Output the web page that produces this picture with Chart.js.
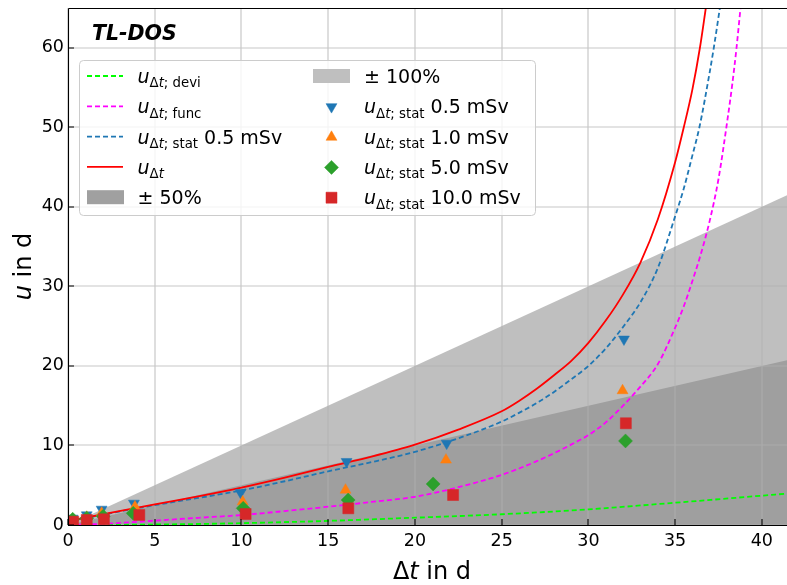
<!DOCTYPE html>
<html>
<head>
<meta charset="utf-8">
<script src="https://cdn.jsdelivr.net/npm/chart.js@4/dist/chart.umd.min.js"></script>
<style>
  html, body { margin: 0; padding: 0; background: #fff; }
  canvas { display: block; }
</style>
</head>
<body>
<canvas id="c" width="787" height="585"></canvas>
<script>
// Axis ranges and tick spacing (days)
const xMax = 41.45, yMax = 65;
const xStep = 5, yStep = 10;

// Shaded relative bands: +-100 % and +-50 % of the interval
const bandX = [0, 41.45];
const band100 = [0, 41.45];
const band50 = [0, 20.7];

// Uncertainty contributions versus interval length
const deviX = [0, 5, 10, 15, 20, 25, 30, 35, 41.45];
const deviU = [0, 0.06, 0.23, 0.52, 0.92, 1.35, 1.97, 2.8, 3.95];

const funcX = [0, 2.5, 5, 7.5, 10, 12.5, 15, 17.5, 20, 22.5, 25, 26, 27, 28, 29, 30, 31, 32, 33, 34, 35, 35.5, 36, 36.5, 37, 37.5, 38, 38.3, 38.54, 38.77];
const funcU = [0, 0.2, 0.55, 0.9, 1.25, 1.75, 2.3, 2.9, 3.55, 4.75, 6.3, 7.1, 8.0, 9.0, 10.1, 11.3, 12.9, 15.0, 17.4, 20.2, 24.8, 27.5, 30.7, 34.2, 38.3, 43.5, 50.7, 55.5, 60, 65];

const statX = [0, 2.5, 5, 7.5, 10, 12.5, 15, 17.5, 20, 22.5, 25, 26, 27, 28, 29, 30, 31, 32, 33, 34, 35, 35.5, 36, 36.4, 37, 37.23, 37.58];
const statU = [0.45, 1.5, 2.5, 3.4, 4.35, 5.5, 6.75, 7.9, 9.2, 10.9, 13.0, 14.1, 15.3, 16.7, 18.3, 20.0, 22.2, 24.9, 28.0, 32.3, 38.8, 42.3, 46.5, 50, 57, 60, 65];

const totalX = [0, 2.5, 5, 7.5, 10, 12.5, 15, 17.5, 20, 22.5, 25, 26, 27, 28, 29, 30, 31, 32, 33, 34, 35, 35.5, 36, 36.43, 36.77];
const totalU = [0.5, 1.55, 2.6, 3.6, 4.7, 5.95, 7.3, 8.6, 10.1, 12.0, 14.3, 15.6, 17.1, 18.8, 20.6, 22.9, 25.7, 29.0, 33.0, 38.4, 45.6, 50, 54.8, 60, 65];

// Statistical uncertainty from measurements at four dose levels
const stat05X = [0.27, 1.08, 1.94, 3.8, 9.95, 16.06, 21.83, 32.05];
const stat05U = [0.84, 1.26, 1.97, 2.73, 4.07, 7.97, 10.27, 23.36];
const stat10X = [0.27, 1.08, 1.94, 3.86, 10.07, 16.0, 21.79, 31.97];
const stat10U = [0.6, 1.0, 1.5, 2.3, 2.93, 4.4, 8.18, 16.9];
const stat50X = [0.27, 1.08, 2.03, 3.76, 10.1, 16.15, 21.05, 32.14];
const stat50U = [0.72, 0.85, 1.1, 1.47, 2.1, 3.14, 5.16, 10.57];
const stat100X = [0.3, 1.08, 2.07, 4.11, 10.24, 16.16, 22.2, 32.16];
const stat100U = [0.42, 0.63, 0.72, 1.26, 1.38, 2.1, 3.77, 12.79];

const FONT = '"DejaVu Sans", "Liberation Sans", sans-serif';
const C = {
  devi: '#00ff00', func: '#ff00ff', stat: '#1f77b4', total: '#ff0000',
  blue: '#1f77b4', orange: '#ff7f0e', green: '#2ca02c', red: '#d62728',
  band: 'rgba(128,128,128,0.5)'
};

const pts = (xs, ys) => xs.map((x, i) => ({ x, y: ys[i] }));

const band = (label, xs, ys, order) => ({
  label, data: pts(xs, ys), showLine: true, borderWidth: 0, pointRadius: 0,
  fill: 'origin', backgroundColor: C.band, borderColor: 'rgba(0,0,0,0)', order
});
const curve = (label, xs, ys, color, dash, order) => ({
  label, data: pts(xs, ys), showLine: true, borderColor: color, borderWidth: 1.8,
  borderDash: dash, pointRadius: 0, pointHoverRadius: 0, fill: false,
  cubicInterpolationMode: 'monotone', order
});
const marker = (label, xs, ys, color, style, radius, rotation, order) => ({
  label, data: pts(xs, ys), showLine: false, pointStyle: style, pointRadius: radius,
  pointRotation: rotation, backgroundColor: color, borderColor: color, borderWidth: 0.5,
  pointHoverRadius: radius, fill: false, order
});

const DASH = [5, 3];

// Mixed-font text run: [text, font, dy]
function richText(ctx, x, y, parts) {
  let cx = x;
  for (const [t, f, dy] of parts) {
    ctx.font = f;
    ctx.fillText(t, cx, y + (dy || 0));
    cx += ctx.measureText(t).width;
  }
  return cx;
}
function richWidth(ctx, parts) {
  let w = 0;
  for (const [t, f] of parts) { ctx.font = f; w += ctx.measureText(t).width; }
  return w;
}

const U = 'italic 19px ' + FONT, N = '19px ' + FONT;
const S = '13.3px ' + FONT, SI = 'italic 13.3px ' + FONT;
const SUB = 4.3;
const uSub = (name, suffix) => {
  const p = [['u', U], ['\u0394', S, SUB], ['t', SI, SUB]];
  if (name) p.push(['; ' + name, S, SUB]);
  if (suffix) p.push([' ' + suffix, N]);
  return p;
};

function drawMarker(ctx, style, r, rot, x, y, color) {
  ctx.save();
  ctx.fillStyle = color; ctx.strokeStyle = color; ctx.lineWidth = 0.5;
  if (Chart.helpers && Chart.helpers.drawPoint) {
    Chart.helpers.drawPoint(ctx, { pointStyle: style, radius: r, rotation: rot, borderWidth: 0.5 }, x, y);
  }
  ctx.restore();
}

// Grid drawn over the shaded bands, beneath the curves
const gridPlugin = {
  id: 'gridOverBands',
  beforeDatasetsDraw(chart) {
    const { ctx, chartArea: a, scales: { x, y } } = chart;
    ctx.save();
    ctx.strokeStyle = 'rgba(176,176,176,0.7)';
    ctx.lineWidth = 1.2;
    ctx.beginPath();
    x.ticks.forEach(t => {
      const px = Math.round(x.getPixelForValue(t.value));
      ctx.moveTo(px, a.top); ctx.lineTo(px, a.bottom);
    });
    y.ticks.forEach(t => {
      const py = Math.round(y.getPixelForValue(t.value));
      ctx.moveTo(a.left, py); ctx.lineTo(a.right, py);
    });
    ctx.stroke();
    ctx.restore();
  }
};

// Axis frame, inward ticks, legend and texts
const decoPlugin = {
  id: 'deco',
  afterDatasetsDraw(chart) {
    const { ctx, chartArea: a, scales: { x, y } } = chart;
    ctx.save();
    ctx.strokeStyle = '#000';
    ctx.lineWidth = 1.1;
    ctx.beginPath();
    ctx.moveTo(a.left + 0.5, a.top + 0.5);
    ctx.lineTo(a.left + 0.5, a.bottom + 0.5);
    ctx.lineTo(a.right, a.bottom + 0.5);
    ctx.moveTo(a.left + 0.5, a.top + 0.5);
    ctx.lineTo(a.right, a.top + 0.5);
    ctx.stroke();
    ctx.beginPath();
    x.ticks.forEach(t => {
      const px = Math.round(x.getPixelForValue(t.value));
      ctx.moveTo(px, a.bottom); ctx.lineTo(px, a.bottom - 6);
    });
    y.ticks.forEach(t => {
      const py = Math.round(y.getPixelForValue(t.value));
      ctx.moveTo(a.left, py); ctx.lineTo(a.left + 6, py);
    });
    ctx.stroke();

    // Legend box
    const bx = 79.5, by = 60.5, bw = 456, bh = 155, r = 4;
    ctx.beginPath();
    ctx.moveTo(bx + r, by);
    ctx.arcTo(bx + bw, by, bx + bw, by + bh, r);
    ctx.arcTo(bx + bw, by + bh, bx, by + bh, r);
    ctx.arcTo(bx, by + bh, bx, by, r);
    ctx.arcTo(bx, by, bx + bw, by, r);
    ctx.closePath();
    ctx.fillStyle = 'rgba(255,255,255,0.8)';
    ctx.fill();
    ctx.strokeStyle = '#cccccc';
    ctx.lineWidth = 1;
    ctx.stroke();

    const base0 = 83, step = 30.3;
    ctx.fillStyle = '#000';
    ctx.textBaseline = 'alphabetic';
    ctx.textAlign = 'left';

    // First column: curves and the 50 % band
    const col1 = [
      { kind: 'line', color: C.devi, dash: DASH, text: uSub('devi') },
      { kind: 'line', color: C.func, dash: DASH, text: uSub('func') },
      { kind: 'line', color: C.stat, dash: DASH, text: uSub('stat', '0.5 mSv') },
      { kind: 'line', color: C.total, dash: [], text: uSub('') },
      { kind: 'rect', color: 'rgb(160,160,160)', text: [['\u00b1 50%', N]] }
    ];
    col1.forEach((e, i) => {
      const base = base0 + step * i, cy = base - 7;
      if (e.kind === 'line') {
        ctx.save();
        ctx.strokeStyle = e.color; ctx.lineWidth = 1.8; ctx.setLineDash(e.dash);
        ctx.beginPath(); ctx.moveTo(87, cy); ctx.lineTo(123, cy); ctx.stroke();
        ctx.restore();
      } else {
        ctx.fillStyle = e.color; ctx.fillRect(87, cy - 7, 37, 14);
      }
      ctx.fillStyle = '#000';
      richText(ctx, 137.5, base, e.text);
    });

    // Second column: 100 % band and measured points
    const col2 = [
      { kind: 'rect', color: 'rgb(191,191,191)', text: [['\u00b1 100%', N]] },
      { kind: 'pt', color: C.blue, style: 'triangle', r: 6.3, rot: 180, text: uSub('stat', '0.5 mSv') },
      { kind: 'pt', color: C.orange, style: 'triangle', r: 6.3, rot: 0, text: uSub('stat', '1.0 mSv') },
      { kind: 'pt', color: C.green, style: 'rectRot', r: 7, rot: 0, text: uSub('stat', '5.0 mSv') },
      { kind: 'pt', color: C.red, style: 'rect', r: 7.8, rot: 0, text: uSub('stat', '10.0 mSv') }
    ];
    col2.forEach((e, i) => {
      const base = base0 + step * i, cy = base - 7;
      if (e.kind === 'rect') {
        ctx.fillStyle = e.color; ctx.fillRect(313, cy - 7, 37, 14);
      } else {
        drawMarker(ctx, e.style, e.r, e.rot, 331.5, cy + 0.5, e.color);
      }
      ctx.fillStyle = '#000';
      richText(ctx, 364, base, e.text);
    });
    ctx.restore();
  },
  afterDraw(chart) {
    const { ctx, chartArea: a } = chart;
    ctx.save();
    ctx.fillStyle = '#000';
    ctx.textBaseline = 'alphabetic';
    ctx.textAlign = 'left';
    // Panel title
    ctx.font = 'italic bold 20.5px ' + FONT;
    ctx.fillText('TL-DOS', 92, 40);

    // x-axis title
    const AX = '24px ' + FONT, AXI = 'italic 24px ' + FONT;
    const xParts = [['\u0394', AX], ['t', AXI], [' in d', AX]];
    const wx = richWidth(ctx, xParts);
    richText(ctx, 432 - wx / 2, 579, xParts);

    // y-axis title
    const yParts = [['u', AXI], [' in d', AX]];
    const wy = richWidth(ctx, yParts);
    ctx.translate(31, (a.top + a.bottom) / 2);
    ctx.rotate(-Math.PI / 2);
    richText(ctx, -wy / 2, 0, yParts);
    ctx.restore();
  }
};

const tickFont = { family: FONT, size: 17.5 };

new Chart(document.getElementById('c'), {
  type: 'line',
  data: {
    datasets: [
      band('\u00b1 100%', bandX, band100, 20),
      band('\u00b1 50%', bandX, band50, 19),
      curve('u devi', deviX, deviU, C.devi, DASH, 15),
      curve('u func', funcX, funcU, C.func, DASH, 14),
      curve('u stat 0.5 mSv', statX, statU, C.stat, DASH, 13),
      curve('u total', totalX, totalU, C.total, [], 12),
      marker('stat 0.5 mSv', stat05X, stat05U, C.blue, 'triangle', 6.3, 180, 4),
      marker('stat 1.0 mSv', stat10X, stat10U, C.orange, 'triangle', 6.3, 0, 3),
      marker('stat 5.0 mSv', stat50X, stat50U, C.green, 'rectRot', 7, 0, 2),
      marker('stat 10.0 mSv', stat100X, stat100U, C.red, 'rect', 7.8, 0, 1)
    ]
  },
  options: {
    responsive: false,
    animation: false,
    devicePixelRatio: 1,
    layout: { autoPadding: false, padding: { top: 8, right: 0, left: 0, bottom: 0 } },
    plugins: {
      legend: { display: false },
      tooltip: { enabled: false },
      filler: { drawTime: 'beforeDatasetsDraw' }
    },
    scales: {
      x: {
        type: 'linear', min: 0, max: xMax,
        ticks: { stepSize: xStep, includeBounds: false, font: tickFont, color: '#000', padding: 6, maxRotation: 0 },
        grid: { display: false, drawTicks: false },
        border: { display: false },
        afterFit(s) { s.height = 60; s.paddingLeft = 0; s.paddingRight = 0; }
      },
      y: {
        type: 'linear', min: 0, max: yMax,
        ticks: { stepSize: yStep, includeBounds: false, font: tickFont, color: '#000', padding: 4 },
        grid: { display: false, drawTicks: false },
        border: { display: false },
        afterFit(s) { s.width = 68; s.paddingTop = 0; s.paddingBottom = 0; }
      }
    }
  },
  plugins: [gridPlugin, decoPlugin]
});
</script>
</body>
</html>
